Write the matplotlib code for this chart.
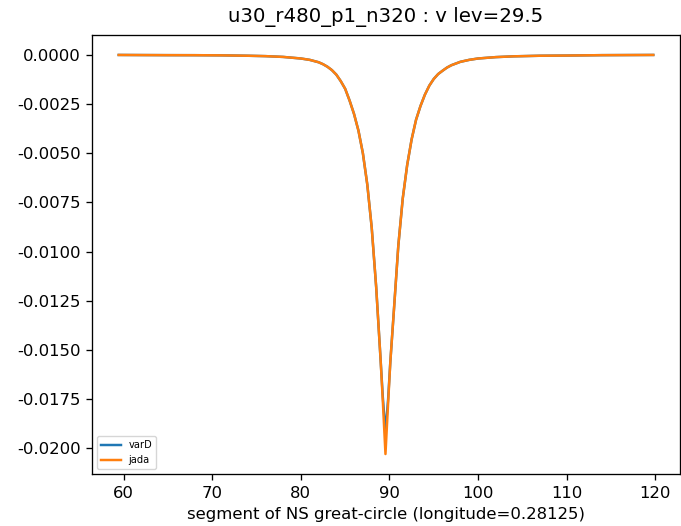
import matplotlib
matplotlib.use("Agg")
import matplotlib.pyplot as plt

# data
x_vals = [59.44, 62, 65, 68, 71, 74, 76, 78, 80, 81, 82, 82.5, 83, 83.5, 84, 84.5, 85,
          85.5, 86, 86.5, 87, 87.5, 88, 88.5, 89, 89.25, 89.55, 89.85, 90.1, 90.5,
          91, 91.5, 92, 92.5, 93, 93.5, 94, 94.5, 95, 95.5, 96, 96.5, 97, 98, 99,
          100, 102, 104, 107, 110, 114, 119.78]

jada = [0.0, -0.000005, -0.00001, -0.000012, -0.00002, -0.00004, -0.00006, -0.0001,
        -0.00018, -0.00025, -0.00037, -0.00047, -0.0006, -0.00077, -0.001, -0.00133,
        -0.00172, -0.00232, -0.003, -0.00385, -0.005, -0.0066, -0.0088, -0.0118,
        -0.0155, -0.0176, -0.0203, -0.0177, -0.0156, -0.013, -0.0097, -0.0073,
        -0.0056, -0.0043, -0.0033, -0.0026, -0.00202, -0.00156, -0.00122, -0.00097,
        -0.0008, -0.00064, -0.00052, -0.00035, -0.00025, -0.00018, -0.00011,
        -0.00007, -0.00004, -0.00003, -0.00001, 0.0]

varD = [0.0, -0.000005, -0.00001, -0.000012, -0.00002, -0.00004, -0.00006, -0.0001,
        -0.00018, -0.00025, -0.00037, -0.00047, -0.0006, -0.00077, -0.001, -0.00133,
        -0.00172, -0.00232, -0.003, -0.00385, -0.005, -0.0066, -0.0088, -0.0118,
        -0.0155, -0.0174, -0.0192, -0.0175, -0.0156, -0.013, -0.0097, -0.0073,
        -0.0056, -0.0043, -0.0033, -0.0026, -0.00202, -0.00156, -0.00122, -0.00097,
        -0.0008, -0.00064, -0.00052, -0.00035, -0.00025, -0.00018, -0.00011,
        -0.00007, -0.00004, -0.00003, -0.00001, 0.0]

title = "u30_r480_p1_n320 : v lev=29.5"
xlabel = "segment of NS great-circle (longitude=0.28125)"

s = 1.186
plt.rcParams["font.size"] = 10 * s
plt.rcParams["lines.linewidth"] = 1.5 * s
plt.rcParams["lines.solid_joinstyle"] = "round"
plt.rcParams["axes.linewidth"] = 0.8 * s
plt.rcParams["xtick.major.width"] = 0.8 * s
plt.rcParams["ytick.major.width"] = 0.8 * s
plt.rcParams["xtick.major.size"] = 3.5 * s
plt.rcParams["ytick.major.size"] = 3.5 * s
plt.rcParams["xtick.major.pad"] = 3.5 * s
plt.rcParams["ytick.major.pad"] = 3.5 * s

fig = plt.figure(figsize=(6.81, 5.26), dpi=100)
ax = fig.add_axes([92 / 681, 52 / 526, 588 / 681, 439 / 526])
ax.plot(x_vals, varD, color="#1f77b4", label="varD")
ax.plot(x_vals, jada, color="#ff7f0e", label="jada")
ax.set_title(title, fontsize=12 * s, pad=8 * s)
ax.set_xlabel(xlabel, labelpad=4 * s)
ax.yaxis.set_major_formatter(matplotlib.ticker.FormatStrFormatter("%.4f"))
ax.set_yticks([0.0, -0.0025, -0.005, -0.0075, -0.01, -0.0125, -0.015, -0.0175, -0.02])
ax.set_xticks([60, 70, 80, 90, 100, 110, 120])
ax.margins(0.05)
ax.legend(loc="lower left", fontsize=6 * s)
fig.savefig("out.png", dpi=100)
